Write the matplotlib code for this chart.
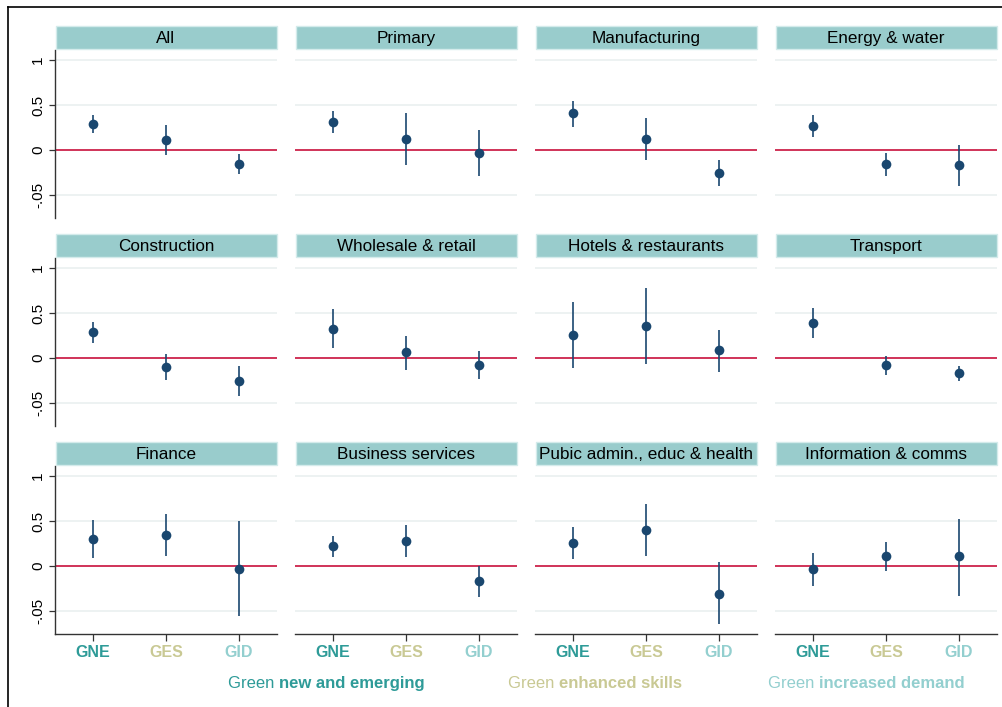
import matplotlib
matplotlib.use("Agg")
import matplotlib.pyplot as plt
from matplotlib.patches import Rectangle
from matplotlib.lines import Line2D

# ---------------- data ----------------
panels = ["All", "Primary", "Manufacturing", "Energy & water",
          "Construction", "Wholesale & retail", "Hotels & restaurants", "Transport",
          "Finance", "Business services", "Pubic admin., educ & health", "Information & comms"]
categories = ["GNE", "GES", "GID"]

# point estimates  (GNE, GES, GID)
est = [
    [0.29, 0.11, -0.16],
    [0.31, 0.12, -0.03],
    [0.41, 0.12, -0.26],
    [0.27, -0.155, -0.17],
    [0.29, -0.10, -0.25],
    [0.32, 0.07, -0.08],
    [0.26, 0.36, 0.09],
    [0.39, -0.08, -0.17],
    [0.30, 0.34, -0.03],
    [0.22, 0.28, -0.17],
    [0.26, 0.40, -0.31],
    [-0.03, 0.11, 0.11],
]
ci_low = [
    [0.19, -0.06, -0.27],
    [0.19, -0.17, -0.29],
    [0.26, -0.11, -0.40],
    [0.15, -0.285, -0.40],
    [0.17, -0.24, -0.42],
    [0.11, -0.13, -0.23],
    [-0.11, -0.07, -0.16],
    [0.22, -0.19, -0.26],
    [0.09, 0.11, -0.56],
    [0.10, 0.10, -0.34],
    [0.08, 0.11, -0.64],
    [-0.22, -0.06, -0.33],
]
ci_high = [
    [0.39, 0.28, -0.04],
    [0.43, 0.41, 0.22],
    [0.55, 0.36, -0.11],
    [0.39, -0.03, 0.06],
    [0.40, 0.04, -0.09],
    [0.54, 0.24, 0.08],
    [0.62, 0.78, 0.31],
    [0.56, 0.02, -0.09],
    [0.51, 0.58, 0.50],
    [0.33, 0.46, 0.00],
    [0.43, 0.69, 0.04],
    [0.15, 0.27, 0.52],
]
ytick_vals = [1, 0.5, 0, -0.5]
ytick_labels = ["1", "0.5", "0", "-.05"]
legend_plain = ["Green", "Green", "Green"]
legend_bold = ["new and emerging", "enhanced skills", "increased demand"]

# ---------------- style ----------------
W, H = 1002, 707
FONT = ["Liberation Sans", "DejaVu Sans"]
plt.rcParams["font.family"] = FONT
navy = "#1a476f"
red = "#c8103c"
strip_col = "#99cccc"
strip_edge = "#d4ebeb"
grid_col = "#eaf0f0"
cat_cols = ["#2e9b98", "#c9c994", "#93cfcf"]

fig = plt.figure(figsize=(W / 100, H / 100), dpi=100)

# outer frame
fig.add_artist(Line2D([8 / W, 8 / W], [0, 1 - 7 / H], color="black", lw=1.2,
                      transform=fig.transFigure))
fig.add_artist(Line2D([8 / W, 1], [1 - 7 / H, 1 - 7 / H], color="black", lw=1.2,
                      transform=fig.transFigure))

col_left = [55, 295, 535, 775]
ax_w = 222
row_top = [50, 258, 466]
ax_h = 168
x = [1, 2, 3]

axes = []
for i, name in enumerate(panels):
    r, c = divmod(i, 4)
    left = col_left[c]
    top = row_top[r]
    ax = fig.add_axes([left / W, 1 - (top + ax_h) / H, ax_w / W, ax_h / H])
    axes.append(ax)
    ax.set_xlim(0.48, 3.52)
    ax.set_ylim(-(ax_h - 100) / 90, 100 / 90)
    for yv in [1, 0.5, -0.5]:
        ax.axhline(yv, color=grid_col, lw=1.2, zorder=0)
    ax.axhline(0, color=red, lw=1.2, zorder=1)
    for j in range(3):
        ax.plot([x[j], x[j]], [ci_low[i][j], ci_high[i][j]], color=navy, lw=1.2,
                zorder=2, solid_capstyle="butt")
    ax.plot(x, est[i], "o", color=navy, ms=7, zorder=3, markeredgewidth=0)

    for s in ax.spines.values():
        s.set_visible(False)
    ax.set_facecolor("none")

    if c == 0:
        ax.spines["left"].set_visible(True)
        ax.spines["left"].set_color("#333333")
        ax.spines["left"].set_linewidth(1.0)
        ax.set_yticks(ytick_vals)
        ax.set_yticklabels(ytick_labels, rotation=90, va="center", fontsize=11)
        ax.tick_params(axis="y", length=4, width=0.9, color="#333333", pad=3)
    else:
        ax.set_yticks([])

    if r == 2:
        ax.spines["bottom"].set_visible(True)
        ax.spines["bottom"].set_color("#333333")
        ax.spines["bottom"].set_linewidth(1.0)
        ax.set_xticks(x)
        ax.set_xticklabels(categories, fontsize=11.5, fontweight="bold")
        for lab, col in zip(ax.get_xticklabels(), cat_cols):
            lab.set_color(col)
        ax.tick_params(axis="x", length=5, width=0.9, color="#333333", pad=3)
    else:
        ax.set_xticks([])

    # strip title
    sx0, sy0, sh = left + 1, top - 24, 23
    fig.add_artist(Rectangle((sx0 / W, 1 - (sy0 + sh) / H), (ax_w - 1) / W, sh / H,
                             transform=fig.transFigure, facecolor=strip_col,
                             edgecolor=strip_edge, lw=1.0))
    fig.text((left + ax_w / 2) / W, 1 - (sy0 + sh / 2 + 1) / H, name,
             ha="center", va="center", fontsize=12.3, color="black")

# bottom legend text (plain + bold)
leg_x = [228, 508, 768]
for k in range(3):
    t1 = fig.text(leg_x[k] / W, 1 - 688 / H, legend_plain[k] + " ",
                  ha="left", va="baseline", fontsize=12, color=cat_cols[k])
    axes[0].annotate(legend_bold[k], xy=(1, 0), xycoords=t1, ha="left", va="bottom",
                     fontsize=12, fontweight="bold", color=cat_cols[k],
                     annotation_clip=False)

fig.savefig("out.png", dpi=100)
